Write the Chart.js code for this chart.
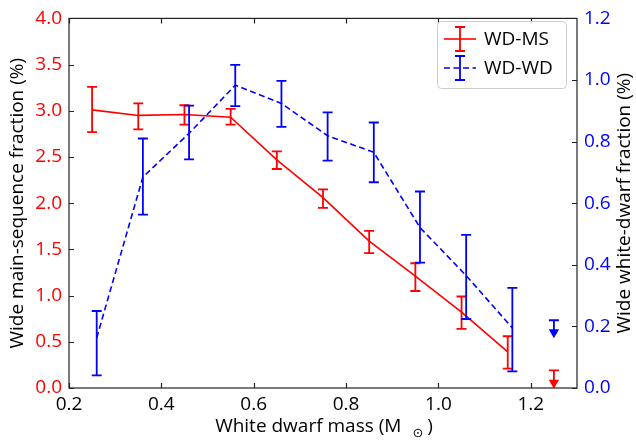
<!DOCTYPE html>
<html>
<head>
<meta charset="utf-8">
<script src="https://cdn.jsdelivr.net/npm/chart.js@4.4.0/dist/chart.umd.min.js"></script>
<style>
  html, body { margin: 0; padding: 0; background: #fff; }
</style>
</head>
<body>
<canvas id="chart" width="636" height="443"></canvas>
<script>
// White dwarf mass bins
const massMS = [0.25, 0.35, 0.45, 0.55, 0.65, 0.75, 0.85, 0.95, 1.05, 1.15];
const massWD = [0.26, 0.36, 0.46, 0.56, 0.66, 0.76, 0.86, 0.96, 1.06, 1.16];

// WD-MS fraction (%) with error bar ends
const fracMS = [3.01, 2.95, 2.96, 2.93, 2.47, 2.06, 1.59, 1.21, 0.82, 0.39];
const lowMS  = [2.77, 2.80, 2.85, 2.85, 2.37, 1.95, 1.46, 1.05, 0.64, 0.21];
const highMS = [3.26, 3.08, 3.06, 3.02, 2.56, 2.15, 1.70, 1.35, 0.99, 0.56];

// WD-WD fraction (%) with error bar ends
const fracWD = [0.163, 0.685, 0.827, 0.983, 0.924, 0.819, 0.765, 0.521, 0.365, 0.195];
const lowWD  = [0.041, 0.563, 0.742, 0.915, 0.848, 0.738, 0.668, 0.407, 0.224, 0.054];
const highWD = [0.250, 0.810, 0.917, 1.049, 0.997, 0.895, 0.862, 0.638, 0.497, 0.325];

// upper limits in the last bin
const limMass = [1.25];
const limMS = [0.056];
const limMStop = [0.19];
const limWD = [0.181];
const limWDtop = [0.22];

const xTicks = [0.2, 0.4, 0.6, 0.8, 1.0, 1.2];

const RED = '#ff0000';
const BLUE = '#0000ff';
const FONT = "'Open Sans', 'DejaVu Sans', sans-serif";
const FS = 19;

const pts = (xs, ys) => xs.map((x, i) => ({ x: x, y: ys[i] }));

// draw vertical error bars with caps
const errorBars = {
  id: 'errorBars',
  afterDatasetsDraw(chart) {
    const ctx = chart.ctx;
    const xs = chart.scales.x;
    chart.data.datasets.forEach((ds) => {
      if (!ds.errLow) return;
      const ys = chart.scales[ds.yAxisID];
      ctx.save();
      ctx.strokeStyle = ds.errColor;
      ctx.lineWidth = 1.8;
      ds.data.forEach((p, j) => {
        const px = xs.getPixelForValue(p.x);
        const top = ys.getPixelForValue(ds.errHigh[j]);
        const bot = ys.getPixelForValue(ds.errLow[j]);
        ctx.beginPath();
        ctx.moveTo(px, top);
        ctx.lineTo(px, bot);
        ctx.moveTo(px - 5, top);
        ctx.lineTo(px + 5, top);
        if (!ds.topCapOnly) {
          ctx.moveTo(px - 5, bot);
          ctx.lineTo(px + 5, bot);
        }
        ctx.stroke();
      });
      ctx.restore();
    });
  }
};

// inward ticks, axis titles and legend
const decorations = {
  id: 'decorations',
  afterDraw(chart) {
    const ctx = chart.ctx;
    const a = chart.chartArea;
    const { x, y, y1 } = chart.scales;
    ctx.save();
    ctx.strokeStyle = '#222';
    ctx.lineWidth = 1.2;
    ctx.strokeRect(a.left, a.top, a.right - a.left, a.bottom - a.top);
    ctx.beginPath();
    x.ticks.forEach((t) => {
      const px = Math.round(x.getPixelForValue(t.value)) + 0.5;
      ctx.moveTo(px, a.bottom); ctx.lineTo(px, a.bottom - 5);
      ctx.moveTo(px, a.top); ctx.lineTo(px, a.top + 5);
    });
    y.ticks.forEach((t) => {
      const py = Math.round(y.getPixelForValue(t.value)) + 0.5;
      ctx.moveTo(a.left, py); ctx.lineTo(a.left + 5, py);
    });
    y1.ticks.forEach((t) => {
      const py = Math.round(y1.getPixelForValue(t.value)) + 0.5;
      ctx.moveTo(a.right, py); ctx.lineTo(a.right - 5, py);
    });
    ctx.stroke();

    // axis titles (x title has a subscript sun symbol)
    ctx.fillStyle = '#000';
    ctx.textBaseline = 'middle';
    ctx.font = FS + 'px ' + FONT;
    const mainTxt = 'White dwarf mass (M';
    const sunTxt = '\u2299';
    const endTxt = ')';
    const w1 = ctx.measureText(mainTxt).width;
    const w3 = ctx.measureText(endTxt).width;
    ctx.font = '13px ' + FONT;
    const w2 = ctx.measureText(sunTxt).width;
    const gapA = 11, gapB = 4;
    const tx = 324 - (w1 + gapA + w2 + gapB + w3) / 2;
    ctx.textAlign = 'left';
    ctx.font = FS + 'px ' + FONT;
    ctx.fillText(mainTxt, tx, 427);
    ctx.fillText(endTxt, tx + w1 + gapA + w2 + gapB, 427);
    ctx.font = '13px ' + FONT;
    ctx.fillText(sunTxt, tx + w1 + gapA, 433);
    ctx.font = FS + 'px ' + FONT;

    ctx.textAlign = 'center';
    ctx.save();
    ctx.translate(18, (a.top + a.bottom) / 2);
    ctx.rotate(-Math.PI / 2);
    ctx.fillText('Wide main-sequence fraction (%)', 0, 0);
    ctx.restore();
    ctx.save();
    ctx.translate(625, (a.top + a.bottom) / 2);
    ctx.rotate(-Math.PI / 2);
    ctx.fillText('Wide white-dwarf fraction (%)', 0, 0);
    ctx.restore();

    // legend
    const lx = 437, ly = 21, lw = 129, lh = 67;
    ctx.beginPath();
    ctx.roundRect(lx + 0.5, ly + 0.5, lw, lh, 4);
    ctx.fillStyle = 'rgba(255,255,255,0.8)';
    ctx.fill();
    ctx.strokeStyle = '#ccc';
    ctx.lineWidth = 1;
    ctx.stroke();
    const entries = [
      { label: 'WD-MS', color: RED, dash: [], yy: 39 },
      { label: 'WD-WD', color: BLUE, dash: [6, 3.5], yy: 68 }
    ];
    entries.forEach((e) => {
      ctx.strokeStyle = e.color;
      ctx.lineWidth = 1.6;
      ctx.setLineDash(e.dash);
      ctx.beginPath();
      ctx.moveTo(444, e.yy); ctx.lineTo(476, e.yy);
      ctx.stroke();
      ctx.setLineDash([]);
      ctx.lineWidth = 1.8;
      ctx.beginPath();
      ctx.moveTo(460, e.yy - 12); ctx.lineTo(460, e.yy + 12);
      ctx.moveTo(455, e.yy - 12); ctx.lineTo(465, e.yy - 12);
      ctx.moveTo(455, e.yy + 12); ctx.lineTo(465, e.yy + 12);
      ctx.stroke();
      ctx.fillStyle = '#000';
      ctx.font = FS + 'px ' + FONT;
      ctx.textAlign = 'left';
      ctx.fillText(e.label, 484, e.yy + 1);
    });
    ctx.restore();
  }
};

new Chart(document.getElementById('chart'), {
  type: 'line',
  data: {
    datasets: [
      {
        label: 'WD-MS',
        data: pts(massMS, fracMS),
        yAxisID: 'y',
        borderColor: RED,
        borderWidth: 1.6,
        pointRadius: 0,
        errLow: lowMS, errHigh: highMS, errColor: RED
      },
      {
        label: 'WD-WD',
        data: pts(massWD, fracWD),
        yAxisID: 'y1',
        borderColor: BLUE,
        borderWidth: 1.6,
        borderDash: [6, 3.5],
        pointRadius: 0,
        errLow: lowWD, errHigh: highWD, errColor: BLUE
      },
      {
        label: 'WD-MS limit',
        data: pts(limMass, limMS),
        yAxisID: 'y',
        showLine: false,
        pointStyle: 'triangle',
        rotation: 180,
        pointRadius: 6,
        backgroundColor: RED,
        borderColor: RED,
        borderWidth: 0,
        clip: false,
        errLow: limMS, errHigh: limMStop, errColor: RED, topCapOnly: true
      },
      {
        label: 'WD-WD limit',
        data: pts(limMass, limWD),
        yAxisID: 'y1',
        showLine: false,
        pointStyle: 'triangle',
        rotation: 180,
        pointRadius: 6,
        backgroundColor: BLUE,
        borderColor: BLUE,
        borderWidth: 0,
        clip: false,
        errLow: limWD, errHigh: limWDtop, errColor: BLUE, topCapOnly: true
      }
    ]
  },
  options: {
    responsive: false,
    animation: false,
    layout: { padding: { top: 11, left: 0, right: 0, bottom: 0 } },
    plugins: {
      legend: { display: false },
      tooltip: { enabled: false }
    },
    scales: {
      x: {
        type: 'linear',
        min: 0.2,
        max: 1.3,
        afterBuildTicks: (s) => { s.ticks = xTicks.map((v) => ({ value: v })); },
        afterFit: (s) => { s.height = 55; },
        grid: { display: false, drawTicks: false },
        border: { display: false },
        ticks: {
          padding: 5,
          color: '#000',
          font: { family: FONT, size: FS },
          callback: (v) => v.toFixed(1)
        }
      },
      y: {
        position: 'left',
        min: 0,
        max: 4,
        afterFit: (s) => { s.width = 69; },
        grid: { display: false, drawTicks: false },
        border: { display: false },
        ticks: {
          stepSize: 0.5,
          padding: 7,
          color: RED,
          font: { family: FONT, size: FS },
          callback: (v) => v.toFixed(1)
        }
      },
      y1: {
        position: 'right',
        min: 0,
        max: 1.2,
        afterFit: (s) => { s.width = 59; },
        grid: { display: false, drawTicks: false },
        border: { display: false },
        ticks: {
          stepSize: 0.2,
          padding: 7,
          color: BLUE,
          font: { family: FONT, size: FS },
          callback: (v) => v.toFixed(1)
        }
      }
    }
  },
  plugins: [errorBars, decorations]
});
</script>
</body>
</html>
